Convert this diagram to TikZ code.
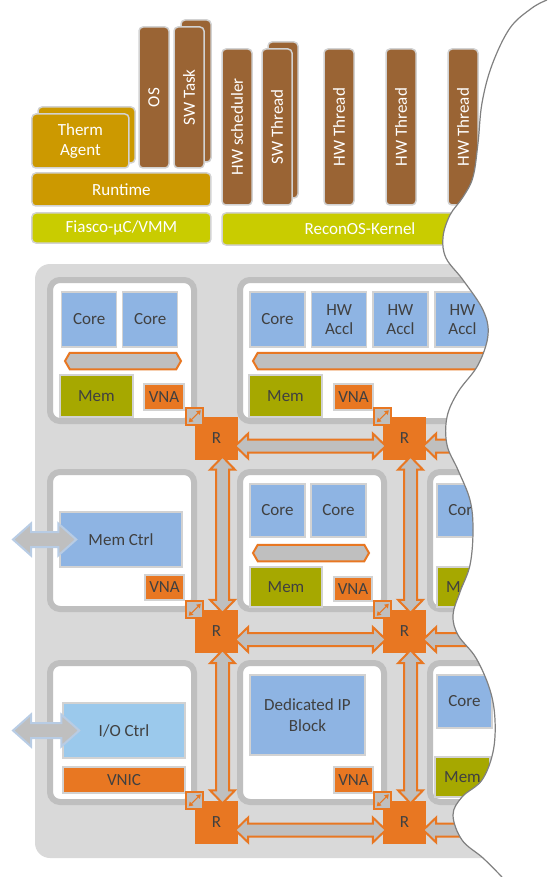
\documentclass[tikz,border=0pt]{standalone}
\usepackage{fontspec}
\setmainfont{Carlito}
\usetikzlibrary{calc,shapes.symbols,arrows.meta}

\definecolor{chipgray}{HTML}{D9D9D9}
\definecolor{framegray}{HTML}{BFBFBF}
\definecolor{edgegray}{HTML}{D2D2D2}
\definecolor{coreblue}{HTML}{8EB4E3}
\definecolor{ioblue}{HTML}{9BC9EC}
\definecolor{memolive}{HTML}{A6A800}
\definecolor{noc}{HTML}{E87722}
\definecolor{swbrown}{HTML}{9A6434}
\definecolor{rtgold}{HTML}{CC9900}
\definecolor{osyellow}{HTML}{C9CC00}
\definecolor{txtgray}{HTML}{404040}
\definecolor{arrowblue}{HTML}{B8CCE4}

% router to router, left to right
\newcommand{\hlink}[2]{%
  \draw[link] ($(#1)+(-3,8)$) -- ++(13,-12.5) -- ++(0,6) -- ($(#2)+(-10,1.5)$)
    -- ++(0,-6) -- ($(#2)+(3,8)$) -- ++(-13,12.5) -- ++(0,-6)
    -- ($(#1)+(10,14.5)$) -- ++(0,6) -- cycle;}
% router to router, top to bottom
\newcommand{\vlink}[2]{%
  \draw[link] ($(#1)+(6,-3)$) -- ++(12.5,13) -- ++(-6,0) -- ($(#2)+(12.5,-10)$)
    -- ++(6,0) -- ($(#2)+(6,3)$) -- ++(-12.5,-13) -- ++(6,0)
    -- ($(#1)+(-0.5,10)$) -- ++(-6,0) -- cycle;}
% off-chip port
\newcommand{\xlink}[2]{%
  \draw[xarrow] (#1) -- ++(18,-16) -- ++(0,8.5) -- ($(#2)+(-1,-7.5)$)
    -- ++(0,-8.5) -- ($(#2)+(17,0)$) -- ++(-18,16) -- ++(0,-8.5)
    -- ($(#1)+(18,7.5)$) -- ++(0,8.5) -- cycle;}

\begin{document}
\begin{tikzpicture}[x=1pt,y=-1pt,
    font=\fontsize{17}{20.5}\selectfont,
    sbox/.style={draw=edgegray,line width=1.5pt,rounded corners=4pt,text=white,
      inner sep=0pt,align=center},
    thread/.style={sbox,fill=swbrown,rotate=90,minimum height=30pt},
    tile/.style={draw=framegray,line width=6pt,fill=white,rounded corners=10pt,
      inner sep=0pt},
    comp/.style={draw=edgegray,line width=1.5pt,text=txtgray,inner sep=0pt,align=center},
    core/.style={comp,fill=coreblue,minimum width=55pt,minimum height=55pt},
    mem/.style={comp,fill=memolive,minimum width=73pt,minimum height=42pt},
    vna/.style={comp,fill=noc,minimum width=39pt,minimum height=26pt},
    bus/.style={signal,signal to=east and west,signal pointer angle=120,
      fill=framegray,draw=noc,line width=2pt,minimum height=16.5pt,inner sep=0pt},
    router/.style={fill=noc,minimum size=43pt,inner sep=0pt,text=txtgray},
    ni/.style={fill=framegray,draw=noc,line width=2pt,minimum size=17pt,inner sep=0pt},
    link/.style={fill=framegray,draw=noc,line width=2pt},
    xarrow/.style={fill=framegray,draw=arrowblue,line width=2pt}]
\useasboundingbox (0,0) rectangle (547,877);

% software stack
\node[sbox,fill=rtgold,minimum width=97pt,minimum height=56pt] (tab) at (86.5,135) {};
\node[sbox,fill=rtgold,minimum width=97pt,minimum height=54pt] (ta) at (80.4,141) {Therm\\Agent};
\node[sbox,fill=rtgold,minimum width=179pt,minimum height=33pt] (rt) at (121.4,189.5) {Runtime};
\node[sbox,fill=osyellow,minimum width=179pt,minimum height=30pt] (fia) at (121.4,228) {Fiasco-µC/VMM};
\node[sbox,fill=osyellow,minimum width=276pt,minimum height=32pt] (rk) at (360,229) {ReconOS-Kernel};
\node[thread,minimum width=141pt] (os) at (154,97.5) {OS};
\node[thread,minimum width=142pt] (swtb) at (196,91) {};
\node[thread,minimum width=141pt] (swt) at (189,97.5) {SW Task};
\node[thread,minimum width=156pt] (hws) at (237,127) {HW scheduler};
\node[thread,minimum width=156pt] (swthb) at (283,120) {};
\node[thread,minimum width=156pt] (swth) at (277,127) {SW Thread};
\node[thread,minimum width=156pt] (hwt1) at (339,127) {HW Thread};
\node[thread,minimum width=156pt] (hwt2) at (401,127) {HW Thread};
\node[thread,minimum width=156pt] (hwt3) at (463,127) {HW Thread};

% chip
\fill[chipgray,rounded corners=15pt] (35,264) rectangle (620,858);

% tiles
\node[tile,minimum width=144pt,minimum height=141pt] (t11) at (122,350.5) {};
\node[tile,minimum width=380pt,minimum height=141pt] (t12) at (430,350.5) {};
\node[tile,minimum width=144pt,minimum height=137pt] (t21) at (122,540.5) {};
\node[tile,minimum width=144pt,minimum height=137pt] (t22) at (312,540.5) {};
\node[tile,minimum width=144pt,minimum height=137pt] (t23) at (502,540.5) {};
\node[tile,minimum width=144pt,minimum height=139pt] (t31) at (122,732.5) {};
\node[tile,minimum width=144pt,minimum height=139pt] (t32) at (312,732.5) {};
\node[tile,minimum width=144pt,minimum height=139pt] (t33) at (502,732.5) {};

% tile contents
\node[core] (c111) at (89.2,319.5) {Core};
\node[core] (c112) at (150.2,319.5) {Core};
\node[bus,minimum width=116pt] (b11) at (123,361) {};
\node[mem] (m11) at (96.5,396) {Mem};
\node[vna,minimum width=40pt] (v11) at (164,397) {VNA};

\node[core] (c121) at (277.5,319.5) {Core};
\node[core] (a121) at (339.2,319.5) {HW\\[-1pt]Accl};
\node[core] (a122) at (400.5,319.5) {HW\\[-1pt]Accl};
\node[core] (a123) at (462.5,319.5) {HW\\[-1pt]Accl};
\node[bus,minimum width=307pt] (b12) at (406.5,361) {};
\node[mem] (m12) at (285.5,396) {Mem};
\node[vna] (v12) at (353.5,397) {VNA};

\node[comp,fill=coreblue,minimum width=122pt,minimum height=55pt] (mc) at (121,539.5) {Mem Ctrl};
\node[vna,minimum height=25pt] (v21) at (164.5,587.5) {VNA};

\node[core,minimum height=53pt] (c221) at (277.5,510.5) {Core};
\node[core,minimum height=53pt] (c222) at (338.5,510.5) {Core};
\node[bus,minimum width=116pt] (b22) at (311,553) {};
\node[mem,minimum width=72pt,minimum height=40pt] (m22) at (286,587) {Mem};
\node[vna,minimum width=38pt,minimum height=24pt] (v22) at (353,589) {VNA};

\node[core,minimum height=53pt] (c231) at (464.5,510.5) {Core};
\node[mem,minimum width=55pt,minimum height=40pt] (m23) at (464.5,587) {Mem};

\node[comp,fill=ioblue,minimum width=122pt,minimum height=55pt] (ioc) at (124,730.5) {I/O Ctrl};
\node[comp,fill=noc,minimum width=122pt,minimum height=26pt] (vnic) at (124,780) {VNIC};

\node[comp,fill=coreblue,minimum width=115pt,minimum height=80pt] (ip) at (307.5,715) {Dedicated IP\\Block};
\node[vna] (v32) at (353.5,780) {VNA};

\node[core,minimum height=53pt] (c331) at (464.5,701.5) {Core};
\node[mem,minimum width=55pt,minimum height=40pt] (m33) at (462.5,777) {Mem};

% routers
\node[router] (r11) at (216.5,438) {R};
\node[router] (r12) at (404.5,438) {R};
\node[router] (r21) at (216.5,631.5) {R};
\node[router] (r22) at (404.5,631.5) {R};
\node[router] (r31) at (216.5,822) {R};
\node[router] (r32) at (404.5,822) {R};
\foreach \r in {11,12,21,22,31,32}{
  \node[ni] (n\r) at (r\r.north west) {};
  \draw[noc,line width=1pt,{Triangle[length=4pt,width=5pt]}-{Triangle[length=4pt,width=5pt]}]
    ($(n\r.south west)+(3.5,-3.5)$) -- ($(n\r.north east)+(-3.5,3.5)$);
}

% links
\coordinate (e1) at (620,438);
\coordinate (e2) at (620,631.5);
\coordinate (e3) at (620,822);
\hlink{r11.east}{r12.west}
\hlink{r21.east}{r22.west}
\hlink{r31.east}{r32.west}
\hlink{r12.east}{e1}
\hlink{r22.east}{e2}
\hlink{r32.east}{e3}
\vlink{r11.south}{r21.north}
\vlink{r21.south}{r31.north}
\vlink{r12.south}{r22.north}
\vlink{r22.south}{r32.north}

% off-chip ports
\coordinate (p1) at (13,539.5);
\coordinate (p2) at (13,730.5);
\xlink{p1}{mc.west}
\xlink{p2}{ioc.west}

% tear-off edge
\fill[white] (660,-10) -- (547,-10) -- plot[smooth,tension=0.6] coordinates {(547,0)
  (532,8) (510,28) (492,65) (482,103) (478,143) (473,177) (463,197) (450,215)
  (443,237) (446,258) (463,280) (483,310) (488,335) (478,365) (458,392) (447,417)
  (447,445) (458,470) (470,500) (473,530) (470,565) (460,592) (453,615) (458,635)
  (476,658) (490,690) (495,720) (493,752) (482,780) (462,797) (453,815) (462,840)
  (483,858) (502,877)} -- (502,890) -- (660,890) -- cycle;
\draw[gray,line width=1.2pt] plot[smooth,tension=0.6] coordinates {(547,0) (532,8)
  (510,28) (492,65) (482,103) (478,143) (473,177) (463,197) (450,215) (443,237)
  (446,258) (463,280) (483,310) (488,335) (478,365) (458,392) (447,417) (447,445)
  (458,470) (470,500) (473,530) (470,565) (460,592) (453,615) (458,635) (476,658)
  (490,690) (495,720) (493,752) (482,780) (462,797) (453,815) (462,840) (483,858)
  (502,877)};
\end{tikzpicture}
\end{document}
